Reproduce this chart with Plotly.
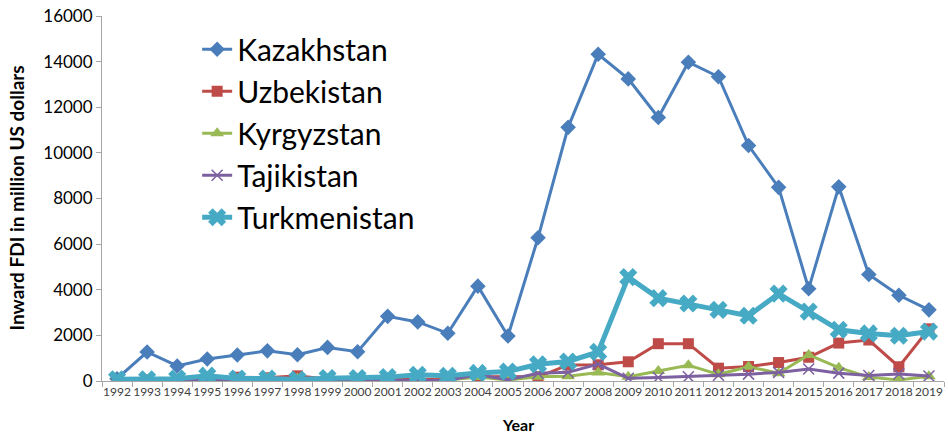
import plotly.graph_objects as go

years = list(range(1992, 2020))
year_labels = [str(y) for y in years]

kazakhstan = [100, 1271, 660, 964, 1137, 1321, 1152, 1472, 1283, 2835, 2590, 2092, 4157, 1971,
              6278, 11119, 14322, 13243, 11551, 13973, 13337, 10321, 8489, 4046, 8511, 4669, 3757, 3118]
uzbekistan = [9, 48, 73, 90, 167, 140, 226, 75, 75, 83, 65, 83, 177, 192,
              174, 705, 711, 842, 1636, 1635, 563, 635, 809, 1041, 1663, 1797, 625, 2286]
kyrgyzstan = [0, 10, 38, 96, 47, 83, 109, 44, -2, 5, 5, 46, 175, 43,
              182, 208, 377, 189, 438, 694, 293, 626, 342, 1142, 586, 170, 47, 210]
tajikistan = [9, 9, 12, 10, 18, 18, 25, 24, 24, 9, 36, 32, 272, 55,
              339, 380, 740, 120, 150, 190, 250, 301, 378, 525, 344, 238, 311, 220]
turkmenistan = [79, 79, 103, 233, 108, 108, 62, 125, 131, 170, 276, 226, 354, 418,
                731, 856, 1277, 4553, 3631, 3399, 3117, 2861, 3830, 3043, 2243, 2086, 1985, 2166]

series = [
    ("Kazakhstan", kazakhstan, "#4A7EBB", "diamond", 12, 3),
    ("Uzbekistan", uzbekistan, "#BE4B48", "square", 11, 3),
    ("Kyrgyzstan", kyrgyzstan, "#98B954", "triangle-up", 12, 3),
    ("Tajikistan", tajikistan, "#7D60A0", "x-thin-open", 11, 3),
    ("Turkmenistan", turkmenistan, "#46AAC5", "x", 16, 5),
]

fig = go.Figure()
for name, vals, color, sym, msize, lw in series:
    marker = dict(symbol=sym, size=msize, color=color)
    if sym == "x-thin-open":
        marker["line"] = dict(color="#A99BC9", width=1.5)
    fig.add_trace(go.Scatter(
        x=years, y=vals, name=name, mode="lines+markers",
        line=dict(color=color, width=lw), marker=marker,
    ))

fig.update_layout(
    width=948, height=437,
    margin=dict(l=102, r=4, t=16, b=56),
    paper_bgcolor="white", plot_bgcolor="white",
    font=dict(family="Lato", color="#000000"),
    showlegend=True,
    legend=dict(
        x=0.113, y=0.98, xanchor="left", yanchor="top",
        font=dict(family="Lato", size=30, color="#000000"),
        bgcolor="rgba(0,0,0,0)", itemwidth=30, tracegroupgap=0,
    ),
    xaxis=dict(
        range=[1991.5, 2019.5], tickmode="array", tickvals=years, ticktext=year_labels,
        ticks="", showgrid=False, zeroline=False,
        showline=True, linecolor="#A6A6A6", linewidth=1,
        tickfont=dict(family="Lato", size=12, color="#404040"),
        minor=dict(tick0=1991.5, dtick=1, ticks="outside", ticklen=5, tickcolor="#A6A6A6", showgrid=False),
    ),
    yaxis=dict(
        range=[0, 16000], dtick=2000, tickformat="d", ticks="outside", ticklen=5, tickcolor="#A6A6A6",
        showgrid=False, zeroline=False, showline=True, linecolor="#A6A6A6", linewidth=1,
        tickfont=dict(family="Lato", size=17, color="#000000"),
    ),
    annotations=[
        dict(text="<b>Inward FDI in million US dollars</b>", xref="paper", yref="paper",
             x=-0.102, y=0.5, xanchor="center", yanchor="middle", textangle=-90,
             showarrow=False, font=dict(family="Lato", size=19, color="#000000")),
        dict(text="<b>Year</b>", xref="paper", yref="paper",
             x=0.494, y=-0.12, xanchor="center", yanchor="middle",
             showarrow=False, font=dict(family="Lato", size=16, color="#000000")),
    ],
)

fig.write_html("out.html", config={"displayModeBar": False},
               post_script="document.body.style.margin='0px';")
